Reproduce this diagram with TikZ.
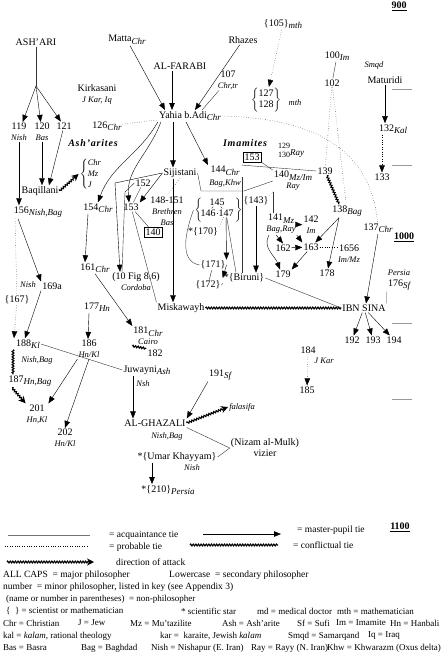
\documentclass[tikz,border=0pt]{standalone}
\usepackage{fontspec}
\setmainfont{Liberation Serif}
\usetikzlibrary{arrows.meta, decorations.pathmorphing, positioning}
\newcommand{\tg}[1]{\raisebox{-2.5pt}{\fontsize{9}{9}\selectfont\itshape #1}}
\newcommand{\plc}[1]{{\fontsize{8.5}{9}\selectfont\itshape #1}}
\newcommand{\yr}[1]{\underline{\textbf{#1}}}

\begin{document}
\begin{tikzpicture}[x=1pt,y=-1pt,inner sep=1pt,
    font=\fontsize{10}{11}\selectfont,
    every node/.style={align=center},
    mp/.style={thin,-{Triangle[length=7pt,width=5.5pt]}},
    acq/.style={thin,black!80},
    prob/.style={thin,dotted},
    confl/.style={line width=1.1pt,decorate,
      decoration={zigzag,segment length=2.6pt,amplitude=0.9pt}},
    attack/.style={confl,decoration={post=lineto,post length=5pt},
      -{Stealth[length=7pt,width=7pt]}},
    boxed/.style={draw,inner sep=1.5pt},
    school/.style={font=\fontsize{10}{11}\selectfont\bfseries\itshape\addfontfeatures{LetterSpace=8}},
    place/.style={font=\fontsize{8.5}{9}\selectfont\itshape},
    tick/.style={black!40,thin},
    key/.style={anchor=west,font=\fontsize{9.5}{10}\selectfont},
    abbr/.style={anchor=west,font=\fontsize{9}{10}\selectfont}]
\useasboundingbox (0,0) rectangle (445,655);

% dates
\node at (399,6) (y900) {\yr{900}};
\node at (404,237) (y1000) {\yr{1000}};
\node at (400,527) (y1100) {\yr{1100}};
\foreach \t in {89,165,323,399}
  \draw[tick] (392,\t) -- (412,\t);

% top
\node at (36,42) (ashari) {ASH'ARI};
\node at (127,40) (matta) {Matta\tg{Chr}};
\node at (243,40) (rhazes) {Rhazes};
\node at (283,24) (n105) {\{105\}\tg{mth}};
\node at (180,66) (alfarabi) {AL-FARABI};
\node at (228,80) (n107) {107\\\plc{Chr,tr}};
\node at (266,100) (n127) {$\left\{\begin{tabular}{@{}c@{}}127\\128\end{tabular}\right\}$};
\node at (295,103) (mth127) {\plc{mth}};
\node at (97,94) (kirkasani) {Kirkasani\\\plc{J Kar, Iq}};
\node at (190,116) (yahia) {Yahia b.Adi\tg{Chr}};
\node at (107,126) (n126) {126\tg{Chr}};
\node at (19,132) (n119) {119\\\plc{Nish}};
\node at (42,132) (n120) {120\\\plc{Bas}};
\node at (64,126) (n121) {121};
\node[school] at (93,143) (asharites) {Ash'arites};
\node at (337,56) (n100) {100\tg{Im}};
\node at (332,83) (n102) {102};
\node[place] at (374,65) (smqd) {Smqd};
\node at (385,80) (maturidi) {Maturidi};
\node at (393,129) (n132) {132\tg{Kal}};
\node at (382,177) (n133) {133};

% Imamites and Sijistani's circle
\node[school] at (245,143) (imamites) {Imamites};
\node[boxed] at (252,157) (b153) {153};
\node at (291,151) (n129) {{\fontsize{8}{9.5}\selectfont\begin{tabular}{@{}c@{}}129\\130\end{tabular}}\tg{Ray}};
\node at (180,173) (sijistani) {Sijistani};
\node at (225,177) (n144) {144\tg{Chr}\\[2pt]\plc{Bag,Khw}};
\node at (293,181) (n140) {140\tg{Mz/Im}\\\plc{Ray}};
\node at (325,171) (n139) {139};
\node at (347,211) (n138) {138\tg{Bag}};
\node at (378,228) (n137) {137\tg{Chr}};
\node at (281,224) (n141) {141\tg{Mz}\\\plc{Bag,Ray}};
\node at (311,225) (n142) {142\\\plc{Im}};
\node at (311,247) (n163) {163};
\node at (283,248) (n162) {162};
\node at (349,254) (n165) {1656\\\plc{Im/Mz}};
\node at (283,274) (n179) {179};
\node at (327,273) (n178) {178};
\node at (399,280) (n176) {\plc{Persia}\\176\tg{Sf}};
\node at (143,183) (n152) {152};
\node at (131,207) (n153) {153};
\node at (167,211) (n148) {148-151\\\plc{Brethren}\\\plc{Bas}};
\node[boxed] at (153,232) (b140) {140};
\node at (217,202) (n145) {145};
\node at (208,213) (n146) {146};
\node at (226,213) (n147) {147};
\node at (199,210) (lbr) {$\left\{\vrule height 8pt depth 8pt width 0pt\right.$};
\node at (238,210) (rbr) {$\left.\vrule height 8pt depth 8pt width 0pt\right\}$};
\node at (256,201) (n143) {\{143\}};
\node at (203,232) (n170) {*\{170\}};
\node at (213,265) (n171) {\{171\}};
\node at (244,278) (biruni) {*\{Biruni\}};
\node at (208,285) (n172) {\{172\}};

% left side
\node at (98,208) (n154) {154\tg{Chr}};
\node at (40,191) (baqillani) {Baqillani};
\node at (91,174) (chrmzj) {$\left\{\begin{tabular}{@{}l@{}}\plc{Chr}\\\plc{Mz}\\\plc{J}\end{tabular}\right.$};
\node at (38,212) (n156) {156\tg{Nish,Bag}};
\node at (95,268) (n161) {161\tg{Chr}};
\node at (136,282) (fig86) {(10 Fig 8.6)\\\plc{Cordoba}};
\node at (181,308) (miskawayh) {Miskawayh};
\node at (364,308) (ibnsina) {IBN SINA};
\node at (352,340) (n192) {192};
\node at (373,340) (n193) {193};
\node at (394,340) (n194) {194};
\node at (308,350) (n184) {184};
\node[place] at (324,361) (kar184) {J Kar};
\node at (307,390) (n185) {185};
\node[place] at (28,285) (nish169) {Nish};
\node at (52,286) (n169) {169a};
\node at (17,300) (n167) {\{167\}};
\node at (97,307) (n177) {177\tg{Hn}};
\node at (89,349) (n186) {186\\\plc{Hn/Kl}};
\node at (148,336) (n181) {181\tg{Chr}\\\plc{Cairo}};
\node at (155,353) (n182) {182};
\node at (28,344) (n188) {188\tg{Kl}};
\node[place] at (37,360) (nish188) {Nish,Bag};
\node at (30,381) (n187) {187\tg{Hn,Bag}};
\node at (37,414) (n201) {201\\\plc{Hn,Kl}};
\node at (65,438) (n202) {202\\\plc{Hn/Kl}};
\node at (147,370) (juwayni) {Juwayni\tg{Ash}};
\node[place] at (143,384) (nsh) {Nsh};
\node at (155,423) (ghazali) {AL-GHAZALI};
\node[place] at (167,436) (nishbag) {Nish,Bag};
\node at (220,375) (n191) {191\tg{Sf}};
\node[place] at (242,407) (falasifa) {falasifa};
\node at (265,448) (nizam) {(Nizam al-Mulk)\\vizier};
\node at (177,457) (umar) {*\{Umar Khayyam\}};
\node[place] at (192,468) (nishumar) {Nish};
\node at (168,490) (n210) {*\{210\}\tg{Persia}};

% ties: Ash'ari
\coordinate (fork) at (36,86);
\draw[acq] (ashari) to (fork);
\foreach \p in {n119,n120,n121}
  \draw[mp] (fork) to (\p);
\draw[mp] (n119) to (n119 |- n156.north);
\draw[mp] (n120) to (n120 |- baqillani.north);
\draw[mp] (n121) to ([xshift=9pt]baqillani.north);
\draw[attack] (baqillani.east) to (chrmzj.west);

% ties: Yahia
\draw[mp] (matta) to ([xshift=-25pt]yahia.north);
\draw[mp] ([xshift=-8pt]alfarabi.south) to ([xshift=-18pt]yahia.north);
\draw[mp] (rhazes) to ([xshift=5pt]yahia.north);
\draw[acq] (n107) to ([xshift=12pt]yahia.north);
\draw[prob] (n126) to (yahia);
\draw[mp,dotted] (n105) to (n127);
\draw[acq] (n100) to (n102);
\draw[prob] (n102) to (n139);
\draw[prob] (n102) to (n138);
\draw[mp] (maturidi) to (maturidi |- n132.north);
\draw[mp,dotted] (n133 |- n132.south) to (n133);
\draw[prob] (yahia.east) .. controls (300,118) and (370,140) .. (n137);
\draw[mp] ([xshift=-17pt]yahia.south) to ([xshift=-7pt]sijistani.north);
\draw[mp] ([xshift=-4pt]yahia.south) to ([xshift=-17pt]n144.north);
\draw[mp] (yahia.south west) to[out=240,in=70] (n154.north);
\draw[mp] ([xshift=3pt]yahia.south west) to[out=250,in=95] ([xshift=-2pt]n153.north);

% ties: Sijistani
\draw[mp] (sijistani.west) to (n153.north east);
\draw[acq] (n152) to (n153);
\draw[prob] (sijistani.south) to (n148.north);
\draw[mp] ([xshift=-7pt]sijistani.south) to ([xshift=-8pt]miskawayh.north);
\draw[acq] (n153) to (miskawayh.north west);
\draw[acq] (n153) to (b140);
\coordinate (bendA) at (115,183);
\coordinate (bendB) at (125,192);
\draw[mp] (sijistani.west) -- (bendA) -- ([xshift=-16pt]fig86.north);
\draw[acq] (n152.west) -- (bendB) -- ([xshift=-14pt]fig86.north);
\coordinate (sijA) at (201,191);
\coordinate (sijB) at (244,191);
\draw[acq] (sijistani.east) -- (sijA) -- (sijB) -- (n140.west);
\draw[acq] (n144.north east) to (n139.west);
\draw[acq] (n144.east) to (n144.east |- biruni.north);
\draw[acq] (b153.south east) to (n140.north west);
\draw[mp] (n143) to (n143 |- biruni.north);
\draw[prob] (n140.south west) to (n143.north east);
\draw[acq] (n145) to (n146);
\draw[acq] (n145) to (n147);
\draw[acq] (n146) to (n147);
\draw[prob] (n147) to (n170.north east);
\draw[mp] (n147) to (n171.north east);
\draw[acq] (n147) to ([xshift=-8pt]biruni.north);
\draw[acq] (lbr.west) to[out=250,in=170] (n171.west);
\draw[mp] (n171.east) to (biruni.west);
\draw[acq] (n172.east) to (biruni.south west);
\draw[acq] (n171) to (n172);

% ties: Rayy
\draw[acq] ([xshift=-20pt]n140.south) to ([xshift=-8pt]n141.north);
\draw[mp] (n141) to (n142);
\draw[mp] (n141.south east) to (n163.north west);
\draw[mp] ([xshift=-5pt]n141.south) to (n162.north);
\draw[mp] ([xshift=-12pt]n141.south) to[out=240,in=110] ([xshift=-3pt]n179.north);
\draw[mp] (n162) to (n163);
\draw[mp] (n163) to (n179.north east);
\draw[prob] (n163) to (n165.west |- n163);
\draw[confl] (n139) to ([xshift=-8pt]n138.north);
\draw[mp] ([xshift=-8pt]n138.south) to (n163);
\draw[mp] ([xshift=-8pt]n138.south) to (n178);

% ties: Ibn Sina
\draw[confl] (miskawayh.east) to (ibnsina.west);
\draw[acq] (biruni.east) to (ibnsina.west);
\draw[mp] (n137.south) to ([xshift=2pt]ibnsina.north);
\draw[acq] (n176.south west) to (ibnsina.north east);
\draw[mp] (ibnsina) to (n192);
\draw[mp] (ibnsina) to (n193);
\draw[mp] (ibnsina) to (n194);
\draw[mp,dotted] (n184) to (n185);

% ties: lower left
\draw[mp] ([xshift=-10pt]n154.south) to ([xshift=-10pt]n161.north);
\draw[mp] ([xshift=-20pt]n156.south) to (n169.north west);
\draw[prob] ([xshift=-23pt]n156.south) to (n167);
\draw[mp,dotted] (n167) to ([xshift=-14pt]n188.north);
\draw[mp] (n169.south west) to ([xshift=-3pt]n188.north);
\draw[mp] (n161.south) to (n181.north west);
\draw[mp] ([xshift=-8pt]n177.south) to ([xshift=-1pt]n186.north);
\draw[mp] (n186.south west) to (n201.north east);
\draw[mp] (n186.south) to (n202.north);
\draw[acq] (n188.east) to (juwayni.west);
\draw[confl] ([xshift=-15pt]n188.south) to ([xshift=-17pt]n187.north);
\draw[attack] ([xshift=-18pt]n187.south) to (n201.north west);
\draw[confl] (n181.south west) to (n182.north west);
\draw[mp] ([xshift=-14pt]juwayni.south) to ([xshift=-14pt]juwayni.south |- ghazali.north);
\draw[mp] (n191.south west) to (ghazali.north east);
\draw[attack] (ghazali.east) to (falasifa.west);
\draw[acq] (ghazali.south east) to (nizam.west);
\draw[acq] (umar.east) to (nizam.west);
\draw[mp] ([xshift=-25pt]umar.south) to ([xshift=-25pt]umar.south |- n210.north);

% legend
\coordinate (acqA) at (8,535);  \coordinate (acqB) at (90,535);
\coordinate (mpA) at (203,534); \coordinate (mpB) at (281,534);
\coordinate (prA) at (5,546);   \coordinate (prB) at (87,546);
\coordinate (cfA) at (190,545); \coordinate (cfB) at (278,545);
\coordinate (atA) at (7,562);   \coordinate (atB) at (94,562);
\draw[acq,black!55] (acqA) to (acqB);
\draw[mp] (mpA) to (mpB);
\draw[prob] (prA) to (prB);
\draw[confl] (cfA) to (cfB);
\draw[attack] (atA) to (atB);
\node[key] at (108,535) (tacq) {= acquaintance tie};
\node[key] at (296,530) (tmp) {= master-pupil tie};
\node[key] at (108,547) (tprob) {= probable tie};
\node[key] at (292,545) (tconfl) {= conflictual tie};
\node[key] at (115,562) (tatt) {direction of attack};
\node[key] at (2,575) (kcaps) {ALL CAPS\ \ = major philosopher};
\node[key] at (168,575) (klow) {Lowercase\ \ = secondary philosopher};
\node[key] at (2,587) (knum) {number\ \ = minor philosopher, listed in key (see Appendix 3)};
\node[abbr] at (5,599) (kpar) {(name or number in parentheses)\ \ = non-philosopher};
\node[abbr] at (5,611) (ksci) {\{\ \ \} = scientist or mathematician};
\node[abbr] at (180,611) (kstar) {* scientific star};
\node[abbr] at (256,611) (kmd) {md = medical doctor};
\node[abbr] at (336,611) (kmth) {mth = mathematician};
\node[abbr] at (2,623) (kchr) {Chr = Christian};
\node[abbr] at (77,623) (kj) {J = Jew};
\node[abbr] at (129,623) (kmz) {Mz = Mu'tazilite};
\node[abbr] at (221,623) (kash) {Ash = Ash'arite};
\node[abbr] at (296,623) (ksf) {Sf = Sufi};
\node[abbr] at (335,623) (kim) {Im = Imamite};
\node[abbr] at (389,623) (khn) {Hn = Hanbali};
\node[abbr] at (2,636) (kkal) {kal = \textit{kalam}, rational theology};
\node[abbr] at (159,636) (kkar) {kar\ = \ karaite, Jewish \textit{kalam}};
\node[abbr] at (287,636) (ksmqd) {Smqd = Samarqand};
\node[abbr] at (367,636) (kiq) {Iq = Iraq};
\node[abbr] at (2,648) (kbas) {Bas = Basra};
\node[abbr] at (80,648) (kbag) {Bag = Baghdad};
\node[abbr] at (150,648) (knish) {Nish = Nishapur (E. Iran)};
\node[abbr] at (250,648) (kray) {Ray = Rayy (N. Iran)};
\node[abbr] at (326,648) (kkhw) {Khw = Khwarazm (Oxus delta)};
\end{tikzpicture}
\end{document}
